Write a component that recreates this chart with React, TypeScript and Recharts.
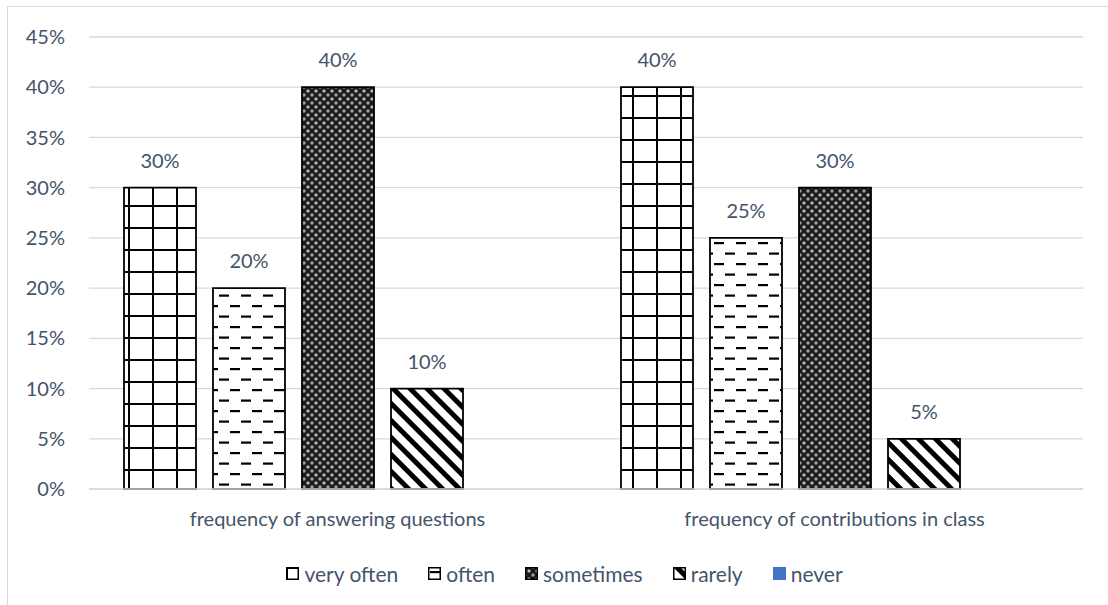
import React from "react";
import { BarChart, Bar, XAxis, YAxis, CartesianGrid, LabelList } from "recharts";

const categories = [
  "frequency of answering questions",
  "frequency of contributions in class",
];
const veryOften = [30, 40];
const often = [20, 25];
const sometimes = [40, 30];
const rarely = [10, 5];
const never = [0, 0];
const yTicks = [0, 5, 10, 15, 20, 25, 30, 35, 40, 45];

const series = [
  { key: "veryOften", name: "very often", fill: "url(#pat-grid)", label: true },
  { key: "often", name: "often", fill: "url(#pat-dash)", label: true },
  { key: "sometimes", name: "sometimes", fill: "url(#pat-check)", label: true },
  { key: "rarely", name: "rarely", fill: "url(#pat-stripe)", label: true },
  { key: "never", name: "never", fill: "#4472C4", label: false },
];

const data = categories.map((name, i) => ({
  name,
  veryOften: veryOften[i],
  often: often[i],
  sometimes: sometimes[i],
  rarely: rarely[i],
  never: never[i],
}));

const TEXT = "#44546A";
const FONT = "Lato, 'Open Sans', sans-serif";
const FS = 20;
const pct = (v: number) => `${v}%`;

const Patterns = () => (
  <defs>
    <pattern id="pat-grid" width="24" height="22" patternUnits="userSpaceOnUse">
      <rect width="24" height="22" fill="#fff" />
      <rect x="0" y="0" width="2" height="22" fill="#000" />
      <rect x="0" y="0" width="24" height="2" fill="#000" />
    </pattern>
    <pattern id="pat-dash" width="22" height="21" patternUnits="userSpaceOnUse">
      <rect width="22" height="21" fill="#fff" />
      <rect x="2" y="4" width="10" height="2.2" fill="#000" />
      <rect x="13" y="14.5" width="10" height="2.2" fill="#000" />
      <rect x="-9" y="14.5" width="10" height="2.2" fill="#000" />
    </pattern>
    <pattern id="pat-check" width="8" height="8" patternUnits="userSpaceOnUse">
      <rect width="8" height="8" fill="#1a1a1a" />
      <circle cx="0" cy="0" r="1.8" fill="#9a9a9a" />
      <circle cx="8" cy="0" r="1.8" fill="#9a9a9a" />
      <circle cx="0" cy="8" r="1.8" fill="#9a9a9a" />
      <circle cx="8" cy="8" r="1.8" fill="#9a9a9a" />
      <circle cx="4" cy="4" r="1.8" fill="#9a9a9a" />
      <circle cx="4" cy="4" r="0.7" fill="#fff" />
    </pattern>
    <pattern
      id="pat-stripe"
      width="12"
      height="12"
      patternUnits="userSpaceOnUse"
      patternTransform="rotate(-45)"
    >
      <rect width="12" height="12" fill="#fff" />
      <rect x="0" y="0" width="5" height="12" fill="#000" />
    </pattern>
  </defs>
);

const LegendRow = () => (
  <div
    style={{
      position: "absolute",
      left: 0,
      width: 1113,
      top: 554,
      display: "flex",
      justifyContent: "center",
      gap: 30,
      fontFamily: FONT,
      fontSize: 21,
      color: TEXT,
    }}
  >
    {series.map((s) => (
      <div key={s.key} style={{ display: "flex", alignItems: "center", gap: 5 }}>
        <svg width="13" height="13">
          <rect
            x="0.75"
            y="0.75"
            width="11.5"
            height="11.5"
            fill={s.fill}
            stroke={s.label ? "#000" : "#4472C4"}
            strokeWidth="1.5"
          />
        </svg>
        <span>{s.name}</span>
      </div>
    ))}
  </div>
);

export default function App() {
  return (
    <div
      style={{
        position: "absolute",
        left: 7,
        top: 6,
        width: 1110,
        height: 610,
        border: "1px solid #d9d9d9",
        background: "#fff",
      }}
    >
      <BarChart
        width={1100}
        height={597}
        data={data}
        margin={{ top: 30, right: 25, left: 0, bottom: 75 }}
        barSize={72}
        barGap={17}
        style={{ fontFamily: FONT }}
      >
        <Patterns />
        <CartesianGrid vertical={false} stroke="#d9d9d9" strokeWidth={1.3} />
        <XAxis
          dataKey="name"
          height={40}
          axisLine={{ stroke: "#d9d9d9", strokeWidth: 1.3 }}
          tickLine={false}
          tickSize={0}
          tickMargin={23}
          tick={{ fill: TEXT, fontSize: FS }}
        />
        <YAxis
          width={81}
          domain={[0, 45]}
          ticks={yTicks}
          tickFormatter={pct}
          axisLine={false}
          tickLine={false}
          tickSize={0}
          tickMargin={24}
          tick={{ fill: TEXT, fontSize: FS }}
        />
        {series.map((s) => (
          <Bar
            key={s.key}
            dataKey={s.key}
            name={s.name}
            fill={s.fill}
            stroke={s.label ? "#000" : "none"}
            strokeWidth={1.8}
            isAnimationActive={false}
          >
            {s.label && (
              <LabelList
                dataKey={s.key}
                position="top"
                offset={20}
                formatter={(v: any) => pct(v)}
                fill={TEXT}
                fontSize={FS}
              />
            )}
          </Bar>
        ))}
      </BarChart>
      <LegendRow />
    </div>
  );
}
